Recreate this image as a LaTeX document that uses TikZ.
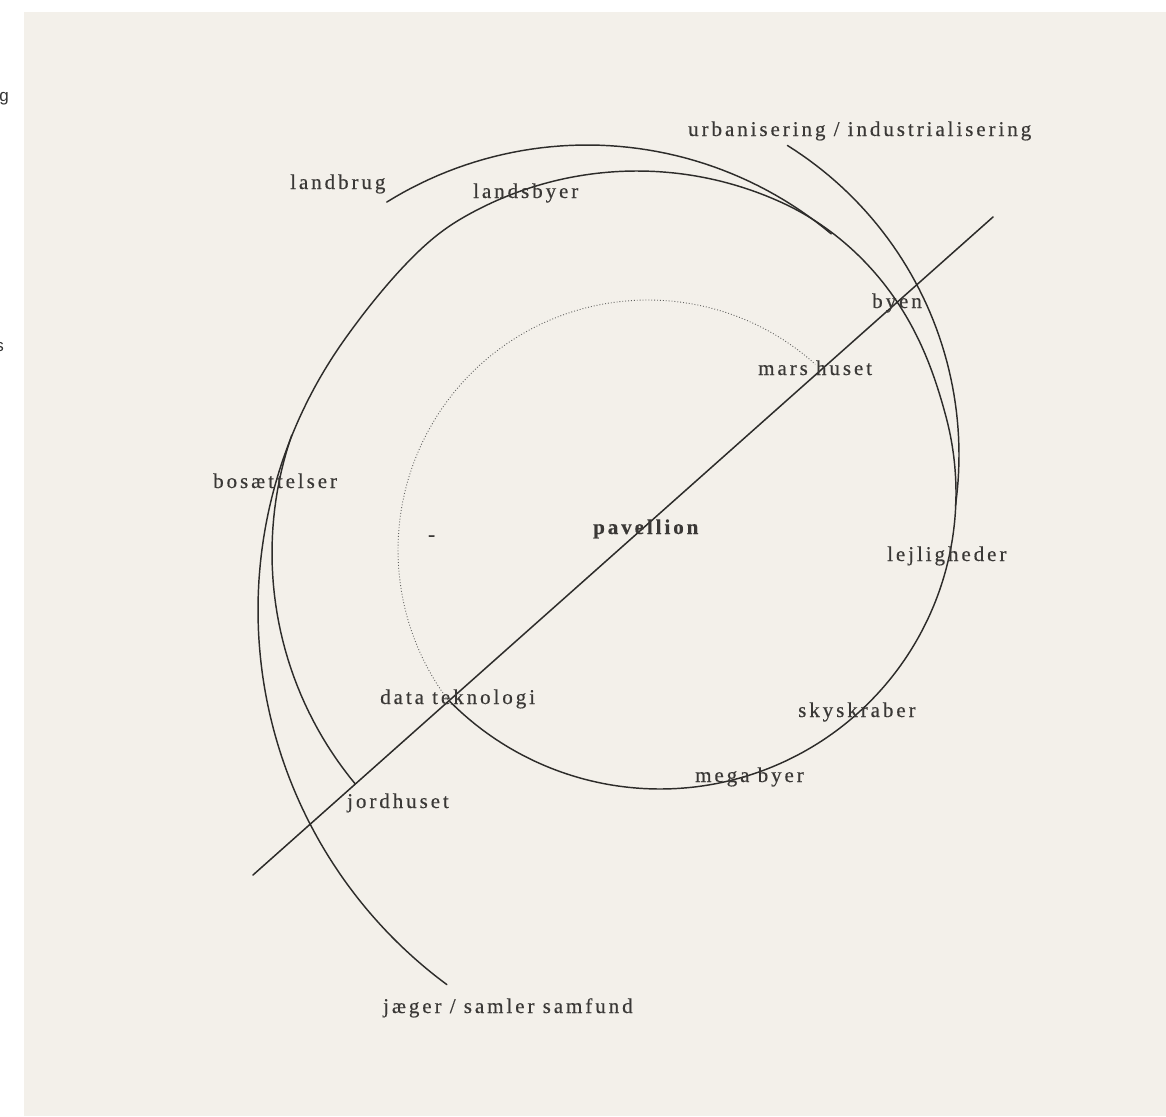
\documentclass[tikz,border=0pt]{standalone}
\usepackage{fontspec}
\setmainfont{Liberation Serif}
\newfontfamily\lblfont[LetterSpace=14,FakeBold=0.4]{Liberation Serif}
\newfontfamily\edgefont{Liberation Sans}
\usetikzlibrary{positioning}

\definecolor{paper}{RGB}{243,240,234}
\definecolor{ink}{RGB}{58,56,54}
\definecolor{stroke}{RGB}{45,44,42}

\begin{document}
\begin{tikzpicture}[
    x=1pt, y=-1pt,
    % blend of three circles into one spiral
    declare function={
        sA(\t)=min(1,max(0,(\t-215)/25));
        wA(\t)=sA(\t)*sA(\t)*(3-2*sA(\t));
        sB(\t)=min(1,max(0,(\t-295)/50));
        wB(\t)=sB(\t)*sB(\t)*(3-2*sB(\t));
        spx(\t)=(1-wB(\t))*((1-wA(\t))*(724+466*cos(\t))+wA(\t)*(637+348*cos(\t)))+wB(\t)*(660+296*cos(\t));
        spy(\t)=(1-wB(\t))*((1-wA(\t))*(610+466*sin(\t))+wA(\t)*(519+348*sin(\t)))+wB(\t)*(493+296*sin(\t));
    },
    % Label styles
    lbl/.style={
        font={\fontsize{21}{24}\lblfont}, text=ink,
        anchor=base west, inner sep=0pt
    },
    boldlbl/.style={lbl, font={\fontsize{21}{24}\lblfont\bfseries}},
    edge/.style={font={\fontsize{17}{20}\edgefont}, text=black!80, anchor=base east, inner sep=0pt},
    % Line styles
    spiral/.style={draw=stroke, line width=1.45pt, line cap=round},
    axisline/.style={draw=stroke, line width=1.5pt, line cap=round},
    dotarc/.style={draw=stroke!75, line width=0.9pt, dotted}
]

% ============================================================
% Sheet
% ============================================================
\useasboundingbox (0,0) rectangle (1166,1116);
\fill[white] (0,0) rectangle (1166,1116);
\fill[paper] (24,12) rectangle (1166,1116);

\begin{scope}
    \clip (0,0) rectangle (24,1116);
    \node[edge] (cutg) at (9,101) {g};
    \node[edge] (cuts) at (4,351) {s};
\end{scope}

% ============================================================
% Diagonal axis
% ============================================================
\coordinate (axislow) at (253,875);
\coordinate (axishigh) at (993,217);
\draw[axisline] (axislow) -- (axishigh);

% ============================================================
% Spiral: main strand, outside in
% ============================================================
\draw[spiral] plot[domain=126.5:495.3, samples=220, smooth]
    ({spx(\x)},{spy(\x)});
% inner loop fades into dots towards mars huset
\draw[dotarc] plot[domain=141.8:312, samples=90]
    ({648+250*cos(\x)},{550+250*sin(\x)});

% ============================================================
% Branch strands joining the spiral
% ============================================================
% jordhuset
\draw[spiral] plot[domain=140.4:199, samples=40]
    ({634+362*cos(\x)},{553+362*sin(\x)});
% landbrug
\draw[spiral] plot[domain=238.2:310, samples=50]
    ({587+380*cos(\x)},{525+380*sin(\x)});
% urbanisering / industrialisering
\draw[spiral] plot[domain=302:368, samples=50]
    ({594+365*cos(\x)},{455+365*sin(\x)});

% ============================================================
% Labels
% ============================================================
\node[lbl] (urban) at (688,136) {urbanisering / industrialisering};
\node[lbl] (landbrug) at (290,189) {landbrug};
\node[lbl] (landsbyer) at (473,198) {landsbyer};
\node[lbl] (byen) at (872,308) {byen};
\node[lbl] (mars) at (758,375) {mars huset};
\node[lbl] (bosaet) at (213,488) {bosættelser};
\node[boldlbl] (pav) at (593,534) {pavellion};
\node[lbl] (dash) at (428,541) {-};
\node[lbl] (lejl) at (887,561) {lejligheder};
\node[lbl] (data) at (380,704) {data teknologi};
\node[lbl] (sky) at (798,717) {skyskraber};
\node[lbl] (mega) at (695,782) {mega byer};
\node[lbl] (jord) at (347,808) {jordhuset};
\node[lbl] (jaeger) at (383,1013) {jæger / samler samfund};

\end{tikzpicture}
\end{document}
